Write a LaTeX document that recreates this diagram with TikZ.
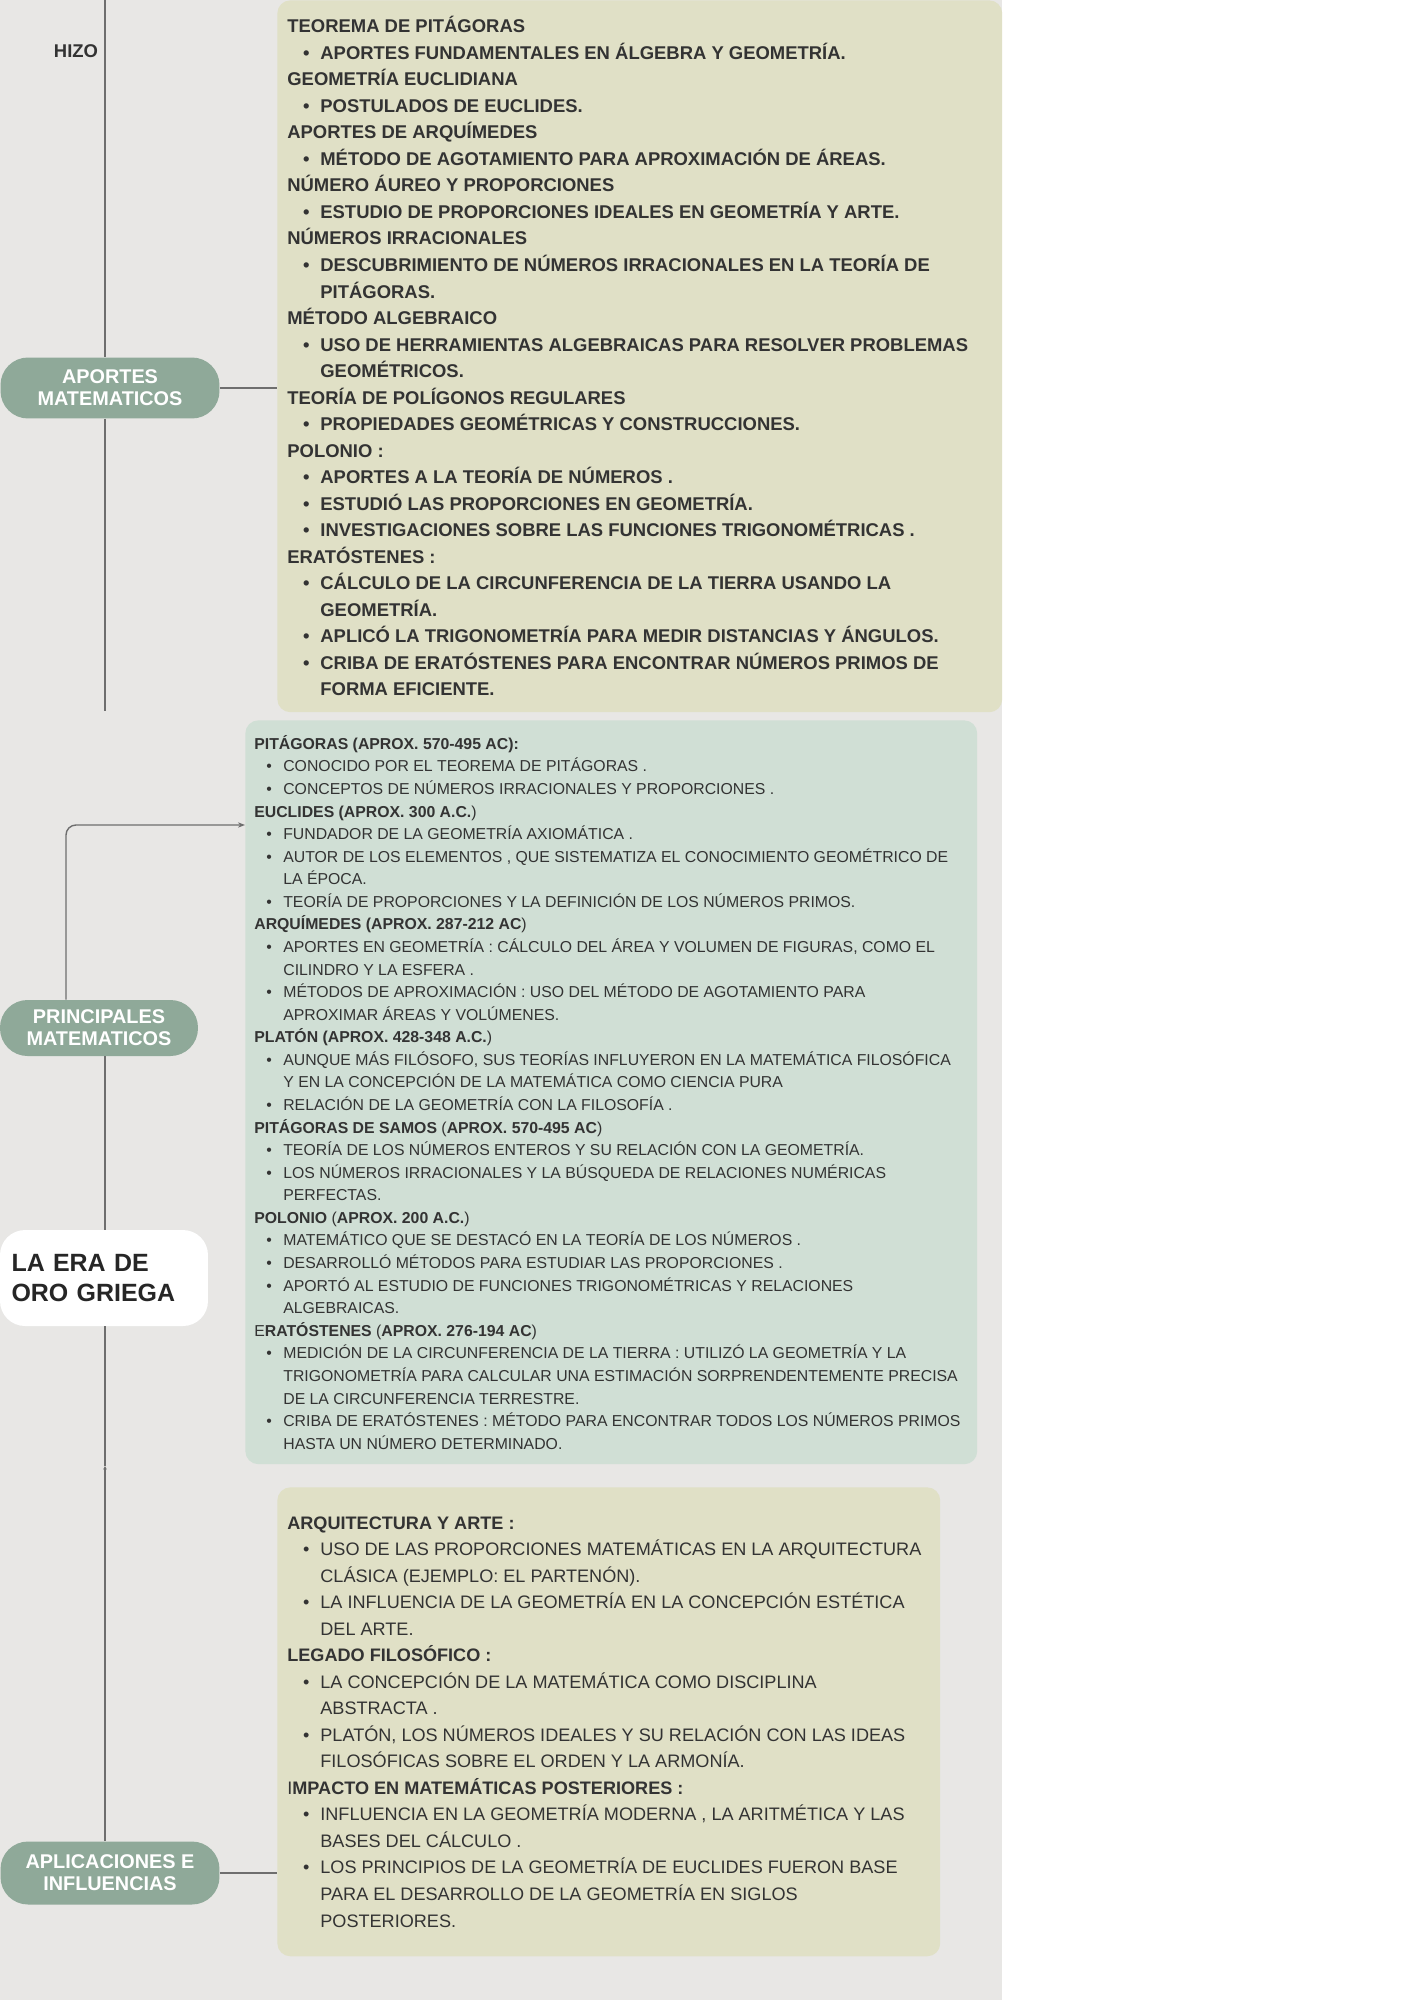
\documentclass[tikz,border=0pt]{standalone}
\usepackage{fontspec}
\setmainfont{Liberation Sans}
\usetikzlibrary{arrows.meta, positioning, calc}

\definecolor{fondo}{HTML}{E8E7E5}
\definecolor{beige}{HTML}{E0E0C6}
\definecolor{verdeclaro}{HTML}{D0DFD5}
\definecolor{salvia}{HTML}{8FA999}
\definecolor{tinta}{HTML}{333333}
\definecolor{linea}{HTML}{6E6E6E}

\newlength{\bulx}
\newlength{\txtx}
\newcommand{\hd}[1]{\textbf{#1}}
\newcommand{\itm}[1]{\hspace*{\bulx}\hbox to \dimexpr\txtx-\bulx\relax{\textbullet\hss}#1}
\newcommand{\cont}[1]{\hspace*{\txtx}#1}

\begin{document}
\begin{tikzpicture}[x=0.02cm, y=-0.02cm,
  caja/.style={rectangle, rounded corners=0.26cm, anchor=north west, inner sep=0pt},
  txt/.style={anchor=west, align=left, inner sep=0pt, text=tinta},
  sangria/.style 2 args={execute at begin node={\global\bulx=#1\global\txtx=#2}},
  pill/.style={rectangle, rounded corners=0.55cm, fill=salvia, text=white,
    align=center, inner sep=0pt, font=\fontsize{11.3}{12.4}\selectfont\bfseries},
  conn/.style={draw=linea, line width=0.8pt}
]
\fill[white] (0,0) rectangle (1414,2000);
\fill[fondo] (0,0) rectangle (1002,2000);
\useasboundingbox (0,0) rectangle (1414,2000);

\coordinate (top) at (105,0);
\coordinate (fin1) at (105,711);
\coordinate (marca) at (105,1466);

\node[pill, minimum width=4.38cm, minimum height=1.22cm] (aportes) at (110,388) {APORTES\\MATEMATICOS};
\node[pill, minimum width=3.96cm, minimum height=1.12cm] (princ) at (99,1028) {PRINCIPALES\\MATEMATICOS};
\node[pill, minimum width=4.38cm, minimum height=1.26cm] (aplic) at (110,1873) {APLICACIONES E\\INFLUENCIAS};
\node[rectangle, rounded corners=0.5cm, fill=white, inner xsep=0.23cm, text width=3.7cm,
  minimum height=1.92cm, align=left, text=black!85,
  font=\fontsize{14.2}{16.7}\selectfont\bfseries] (era) at (104,1278) {LA ERA DE\\ORO GRIEGA};
\node[font=\fontsize{10.5}{12}\selectfont\bfseries, text=tinta] (hizo) at (76,51) {HIZO};

\node[caja, fill=beige, minimum width=14.5cm, minimum height=14.24cm] (caja1) at (277,0) {};
\node[caja, fill=verdeclaro, minimum width=14.64cm, minimum height=14.88cm] (caja2) at (245,720) {};
\node[caja, fill=beige, minimum width=13.26cm, minimum height=9.38cm] (caja3) at (277,1487) {};

\node[txt, sangria={9pt}{18.8pt}, font=\fontsize{10.5}{15.1}\selectfont\bfseries, xshift=0.2cm] (lista1) at (caja1.west)
 {TEOREMA DE PITÁGORAS\\
  \itm{APORTES FUNDAMENTALES EN ÁLGEBRA Y GEOMETRÍA.}\\
  GEOMETRÍA EUCLIDIANA\\
  \itm{POSTULADOS DE EUCLIDES.}\\
  APORTES DE ARQUÍMEDES\\
  \itm{MÉTODO DE AGOTAMIENTO PARA APROXIMACIÓN DE ÁREAS.}\\
  NÚMERO ÁUREO Y PROPORCIONES\\
  \itm{ESTUDIO DE PROPORCIONES IDEALES EN GEOMETRÍA Y ARTE.}\\
  NÚMEROS IRRACIONALES\\
  \itm{DESCUBRIMIENTO DE NÚMEROS IRRACIONALES EN LA TEORÍA DE}\\
  \cont{PITÁGORAS.}\\
  MÉTODO ALGEBRAICO\\
  \itm{USO DE HERRAMIENTAS ALGEBRAICAS PARA RESOLVER PROBLEMAS}\\
  \cont{GEOMÉTRICOS.}\\
  TEORÍA DE POLÍGONOS REGULARES\\
  \itm{PROPIEDADES GEOMÉTRICAS Y CONSTRUCCIONES.}\\
  POLONIO :\\
  \itm{APORTES A LA TEORÍA DE NÚMEROS .}\\
  \itm{ESTUDIÓ LAS PROPORCIONES EN GEOMETRÍA.}\\
  \itm{INVESTIGACIONES SOBRE LAS FUNCIONES TRIGONOMÉTRICAS .}\\
  ERATÓSTENES :\\
  \itm{CÁLCULO DE LA CIRCUNFERENCIA DE LA TIERRA USANDO LA}\\
  \cont{GEOMETRÍA.}\\
  \itm{APLICÓ LA TRIGONOMETRÍA PARA MEDIR DISTANCIAS Y ÁNGULOS.}\\
  \itm{CRIBA DE ERATÓSTENES PARA ENCONTRAR NÚMEROS PRIMOS DE}\\
  \cont{FORMA EFICIENTE.}};

\node[txt, sangria={6.8pt}{16.5pt}, font=\fontsize{9}{12.85}\selectfont, xshift=0.18cm] (lista2) at (caja2.west)
 {\hd{PITÁGORAS (APROX. 570-495 AC):}\\
  \itm{CONOCIDO POR EL TEOREMA DE PITÁGORAS .}\\
  \itm{CONCEPTOS DE NÚMEROS IRRACIONALES Y PROPORCIONES .}\\
  \hd{EUCLIDES (APROX. 300 A.C.})\\
  \itm{FUNDADOR DE LA GEOMETRÍA AXIOMÁTICA .}\\
  \itm{AUTOR DE LOS ELEMENTOS , QUE SISTEMATIZA EL CONOCIMIENTO GEOMÉTRICO DE}\\
  \cont{LA ÉPOCA.}\\
  \itm{TEORÍA DE PROPORCIONES Y LA DEFINICIÓN DE LOS NÚMEROS PRIMOS.}\\
  \hd{ARQUÍMEDES (APROX. 287-212 AC})\\
  \itm{APORTES EN GEOMETRÍA : CÁLCULO DEL ÁREA Y VOLUMEN DE FIGURAS, COMO EL}\\
  \cont{CILINDRO Y LA ESFERA .}\\
  \itm{MÉTODOS DE APROXIMACIÓN : USO DEL MÉTODO DE AGOTAMIENTO PARA}\\
  \cont{APROXIMAR ÁREAS Y VOLÚMENES.}\\
  \hd{PLATÓN (APROX. 428-348 A.C.})\\
  \itm{AUNQUE MÁS FILÓSOFO, SUS TEORÍAS INFLUYERON EN LA MATEMÁTICA FILOSÓFICA}\\
  \cont{Y EN LA CONCEPCIÓN DE LA MATEMÁTICA COMO CIENCIA PURA}\\
  \itm{RELACIÓN DE LA GEOMETRÍA CON LA FILOSOFÍA .}\\
  \hd{PITÁGORAS DE SAMOS} (\hd{APROX. 570-495 AC})\\
  \itm{TEORÍA DE LOS NÚMEROS ENTEROS Y SU RELACIÓN CON LA GEOMETRÍA.}\\
  \itm{LOS NÚMEROS IRRACIONALES Y LA BÚSQUEDA DE RELACIONES NUMÉRICAS}\\
  \cont{PERFECTAS.}\\
  \hd{POLONIO} (\hd{APROX. 200 A.C.})\\
  \itm{MATEMÁTICO QUE SE DESTACÓ EN LA TEORÍA DE LOS NÚMEROS .}\\
  \itm{DESARROLLÓ MÉTODOS PARA ESTUDIAR LAS PROPORCIONES .}\\
  \itm{APORTÓ AL ESTUDIO DE FUNCIONES TRIGONOMÉTRICAS Y RELACIONES}\\
  \cont{ALGEBRAICAS.}\\
  E\hd{RATÓSTENES} (\hd{APROX. 276-194 AC})\\
  \itm{MEDICIÓN DE LA CIRCUNFERENCIA DE LA TIERRA : UTILIZÓ LA GEOMETRÍA Y LA}\\
  \cont{TRIGONOMETRÍA PARA CALCULAR UNA ESTIMACIÓN SORPRENDENTEMENTE PRECISA}\\
  \cont{DE LA CIRCUNFERENCIA TERRESTRE.}\\
  \itm{CRIBA DE ERATÓSTENES : MÉTODO PARA ENCONTRAR TODOS LOS NÚMEROS PRIMOS}\\
  \cont{HASTA UN NÚMERO DETERMINADO.}};

\node[txt, sangria={9pt}{18.8pt}, font=\fontsize{10.3}{15.1}\selectfont, xshift=0.2cm] (lista3) at (caja3.west)
 {\hd{ARQUITECTURA Y ARTE :}\\
  \itm{USO DE LAS PROPORCIONES MATEMÁTICAS EN LA ARQUITECTURA}\\
  \cont{CLÁSICA (EJEMPLO: EL PARTENÓN).}\\
  \itm{LA INFLUENCIA DE LA GEOMETRÍA EN LA CONCEPCIÓN ESTÉTICA}\\
  \cont{DEL ARTE.}\\
  \hd{LEGADO FILOSÓFICO :}\\
  \itm{LA CONCEPCIÓN DE LA MATEMÁTICA COMO DISCIPLINA}\\
  \cont{ABSTRACTA .}\\
  \itm{PLATÓN, LOS NÚMEROS IDEALES Y SU RELACIÓN CON LAS IDEAS}\\
  \cont{FILOSÓFICAS SOBRE EL ORDEN Y LA ARMONÍA.}\\
  I\hd{MPACTO EN MATEMÁTICAS POSTERIORES :}\\
  \itm{INFLUENCIA EN LA GEOMETRÍA MODERNA , LA ARITMÉTICA Y LAS}\\
  \cont{BASES DEL CÁLCULO .}\\
  \itm{LOS PRINCIPIOS DE LA GEOMETRÍA DE EUCLIDES FUERON BASE}\\
  \cont{PARA EL DESARROLLO DE LA GEOMETRÍA EN SIGLOS}\\
  \cont{POSTERIORES.}};

\draw[conn] (top) -- (top |- aportes.north);
\draw[conn] (aportes.south -| top) -- (fin1);
\draw[conn] (aportes.east) -- (aportes.east -| caja1.west);
\draw[conn, -{Stealth[length=4pt, width=3pt]}, rounded corners=0.2cm]
  ([xshift=-0.66cm]princ.north) |- ([yshift=-2.1cm]caja2.north west);
\draw[conn] (princ.south -| top) -- (era.north -| top);
\draw[conn, -{Stealth[length=2pt, width=2pt]}] (aplic.north -| top) -- (marca);
\draw[conn] (marca) -- (era.south -| top);
\draw[conn] (aplic.east) -- (aplic.east -| caja3.west);
\end{tikzpicture}
\end{document}
